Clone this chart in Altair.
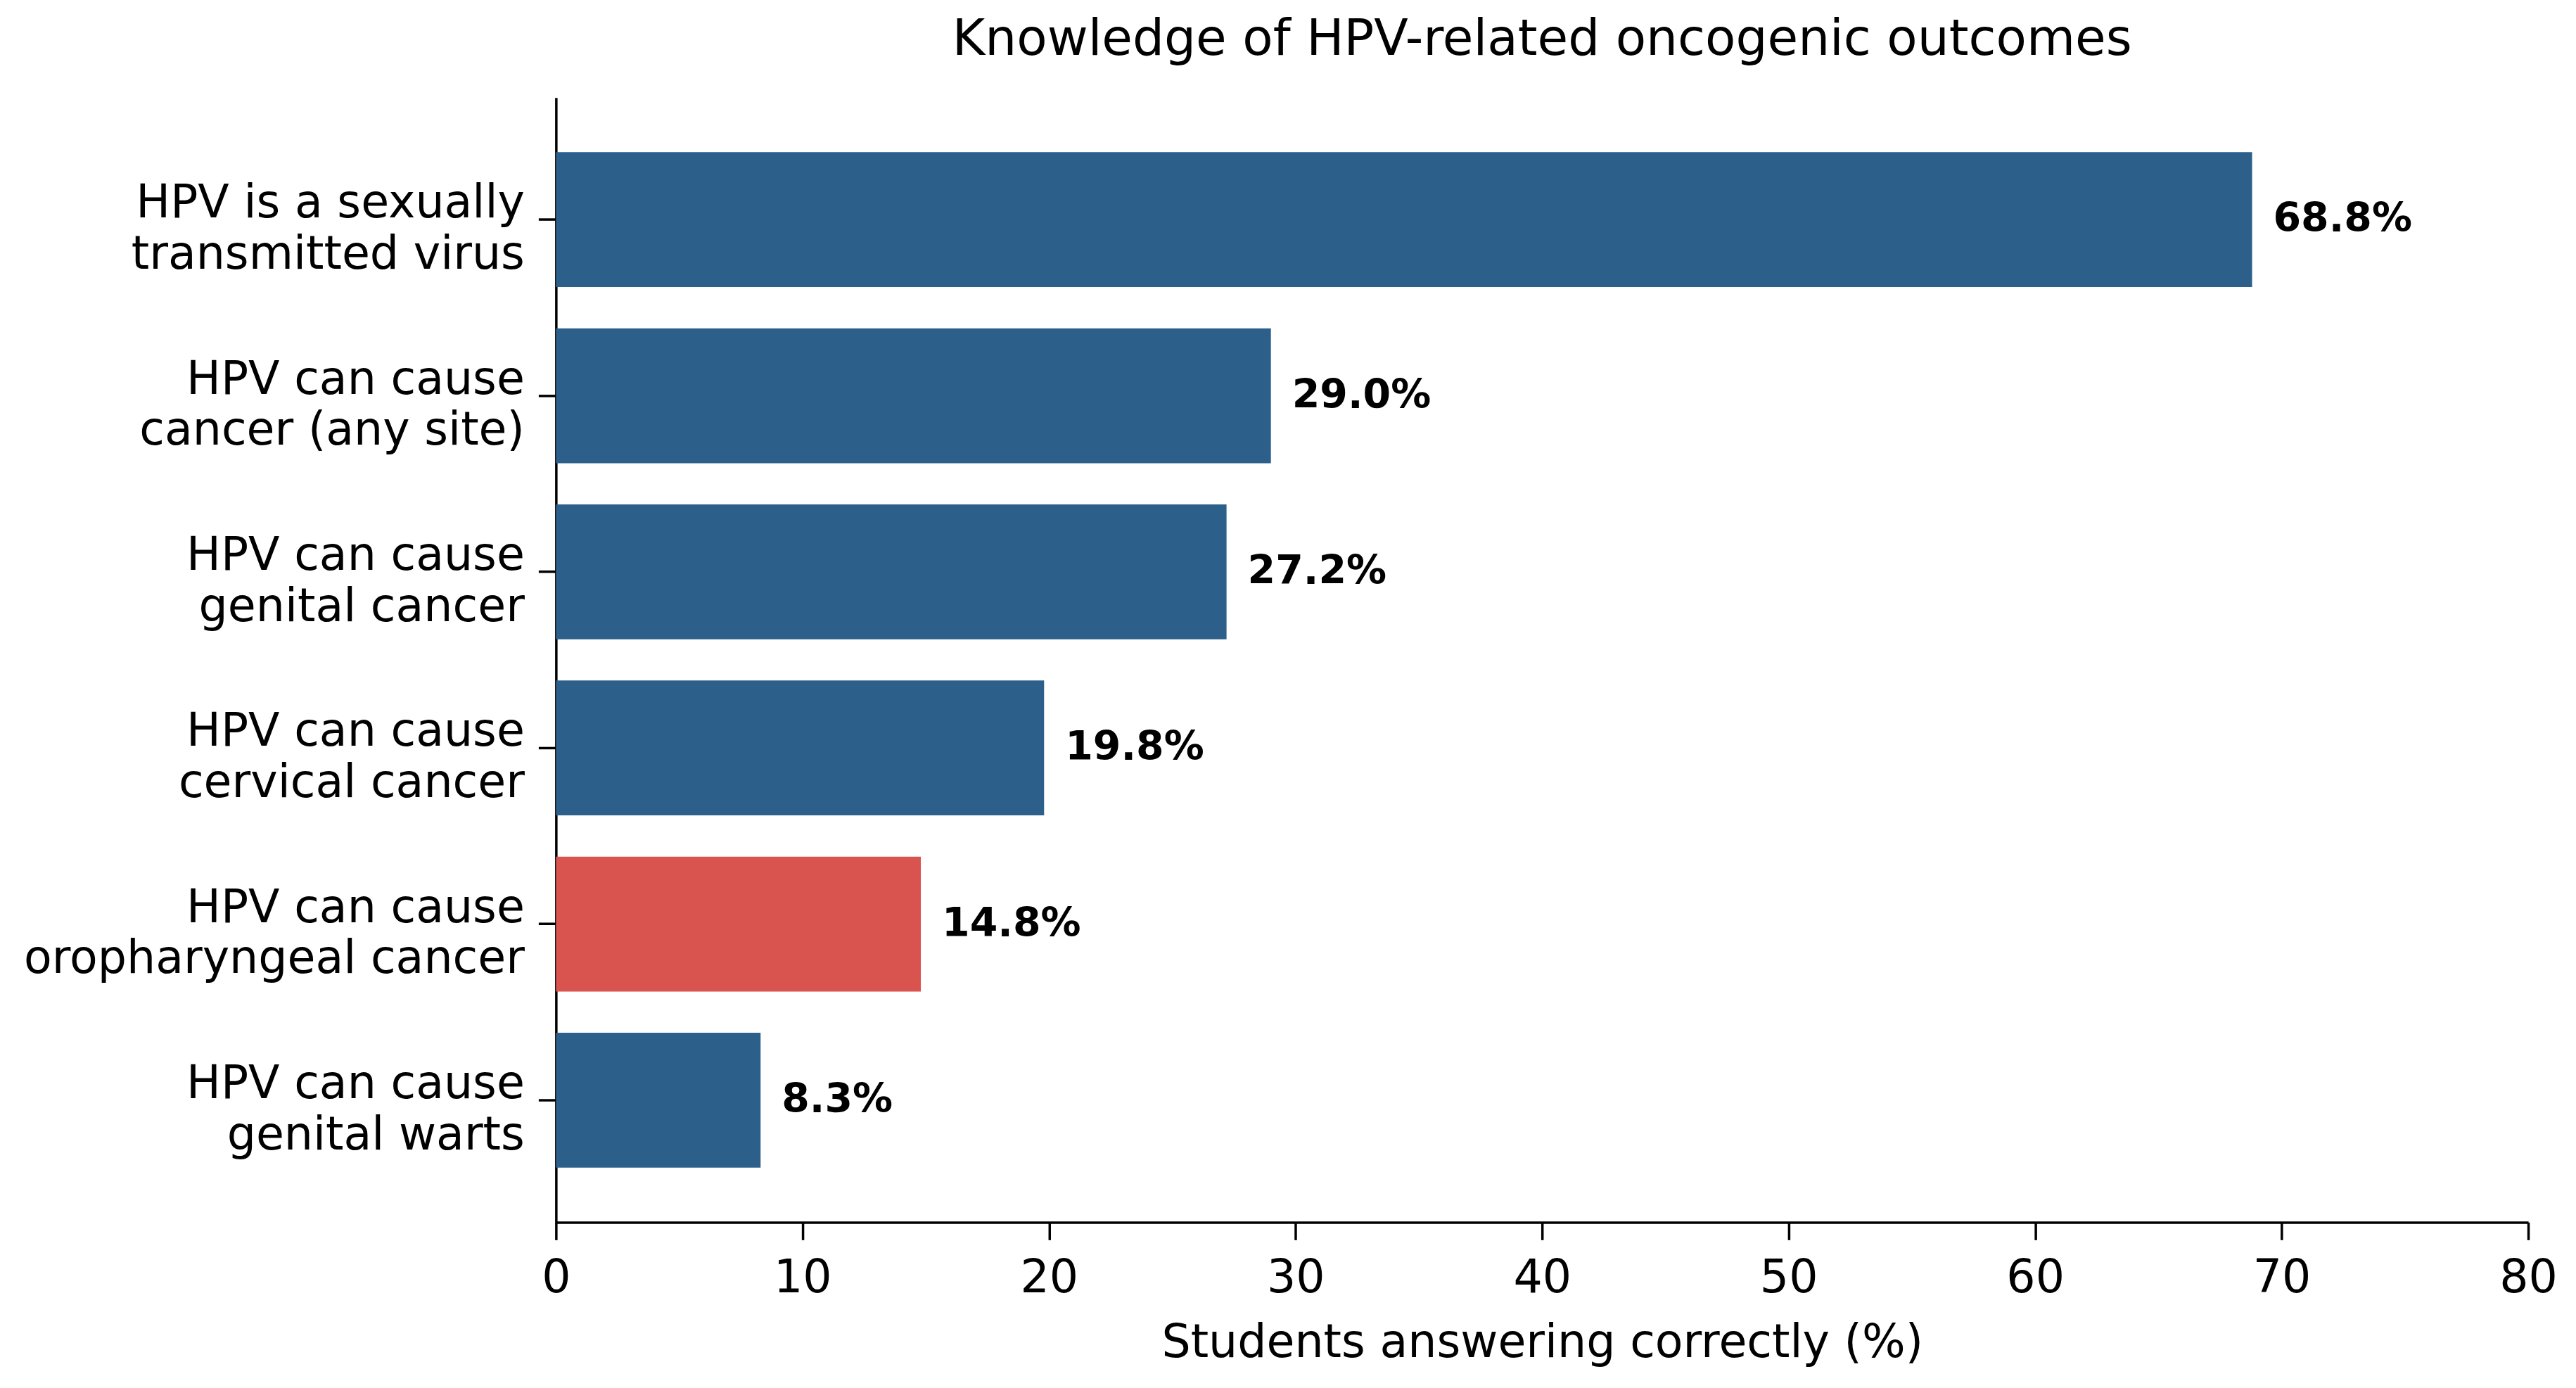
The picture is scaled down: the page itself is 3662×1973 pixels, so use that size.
import altair as alt
import pandas as pd

categories = [
    "HPV is a sexually\ntransmitted virus",
    "HPV can cause\ncancer (any site)",
    "HPV can cause\ngenital cancer",
    "HPV can cause\ncervical cancer",
    "HPV can cause\noropharyngeal cancer",
    "HPV can cause\ngenital warts",
]
values = [68.8, 29.0, 27.2, 19.8, 14.8, 8.3]
highlight = [False, False, False, False, True, False]
x_ticks = [0, 10, 20, 30, 40, 50, 60, 70, 80]

df = pd.DataFrame({"item": categories, "value": values, "hl": highlight})

FONT = "DejaVu Sans"
BLUE = "#2c5f8a"
RED = "#d9534f"

y_enc = alt.Y(
    "item:N",
    sort=categories,
    scale=alt.Scale(paddingInner=0.234, paddingOuter=0.31),
    axis=alt.Axis(
        title=None,
        labelExpr="split(datum.label, '\\n')",
        labelFont=FONT,
        labelFontSize=65,
        labelColor="black",
        labelLineHeight=73,
        labelLimit=0,
        labelOffset=-23,
        labelPadding=20,
        tickSize=25,
        tickWidth=3.5,
        tickColor="black",
        domainColor="black",
        domainWidth=3.5,
        grid=False,
    ),
)

x_enc = alt.X(
    "value:Q",
    scale=alt.Scale(domain=[0, 80], nice=False),
    axis=alt.Axis(
        title="Students answering correctly (%)",
        values=x_ticks,
        labelFont=FONT,
        labelFontSize=65,
        labelColor="black",
        labelPadding=23,
        labelFlush=False,
        tickSize=25,
        tickWidth=3.5,
        tickColor="black",
        domainColor="black",
        domainWidth=3.5,
        titleFont=FONT,
        titleFontSize=65,
        titleFontWeight="normal",
        titleColor="black",
        titlePadding=28,
        grid=False,
    ),
)

bars = alt.Chart(df).mark_bar().encode(
    y=y_enc,
    x=x_enc,
    color=alt.Color(
        "hl:N",
        scale=alt.Scale(domain=[False, True], range=[BLUE, RED]),
        legend=None,
    ),
)

labels = (
    alt.Chart(df)
    .transform_calculate(label="format(datum.value, '.1f') + '%'")
    .mark_text(
        align="left",
        baseline="middle",
        dx=30,
        font=FONT,
        fontSize=57,
        fontWeight="bold",
        color="black",
    )
    .encode(
        y=alt.Y("item:N", sort=categories),
        x=alt.X("value:Q"),
        text="label:N",
    )
)

chart = (
    alt.layer(bars, labels)
    .properties(
        width=2806,
        height=1600,
        title=alt.TitleParams(
            "Knowledge of HPV-related oncogenic outcomes",
            font=FONT,
            fontSize=71,
            fontWeight="normal",
            color="black",
            anchor="middle",
            offset=46,
        ),
        padding={"left": 783, "top": 130, "right": 60, "bottom": 220},
        autosize=alt.AutoSizeParams(type="none"),
        view=alt.ViewBackground(stroke="transparent", strokeWidth=0),
    )
    .configure_view(stroke="transparent", strokeWidth=0)
    .configure(background="white")
)

chart.save("out.html", embed_options={"renderer": "svg", "actions": False})
